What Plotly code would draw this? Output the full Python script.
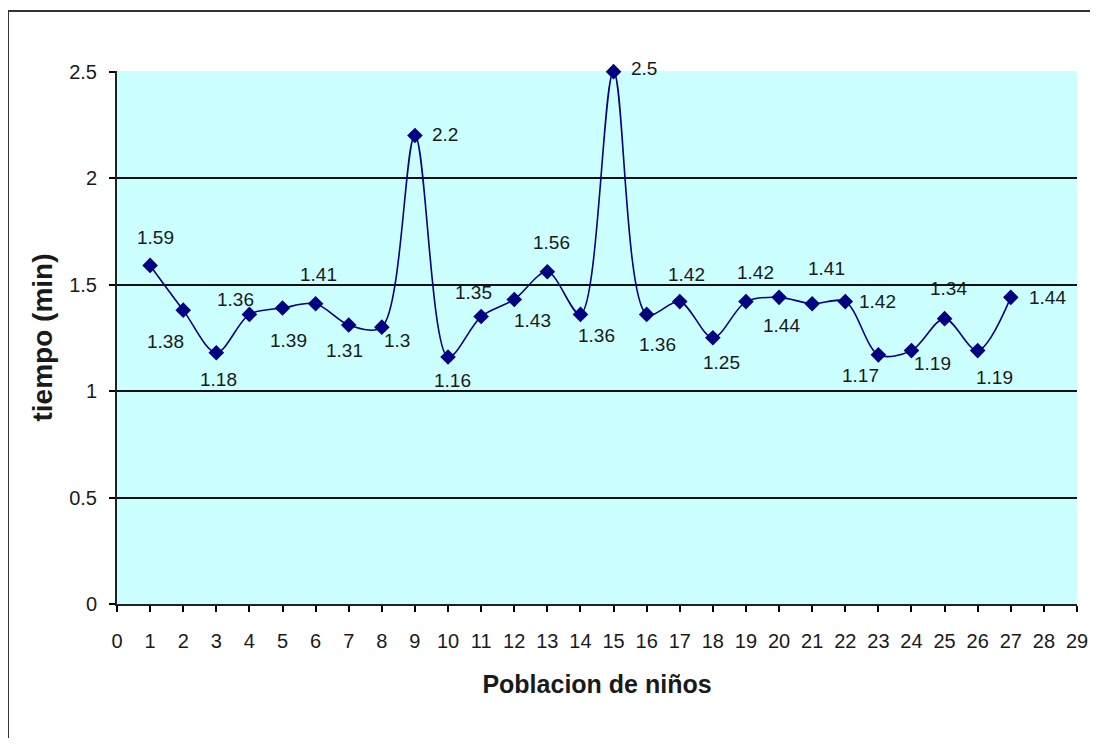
import plotly.graph_objects as go

ninos = list(range(1, 28))
tiempo = [1.59, 1.38, 1.18, 1.36, 1.39, 1.41, 1.31, 1.3, 2.2, 1.16, 1.35, 1.43, 1.56, 1.36,
          2.5, 1.36, 1.42, 1.25, 1.42, 1.44, 1.41, 1.42, 1.17, 1.19, 1.34, 1.19, 1.44]
etiquetas = ["1.59", "1.38", "1.18", "1.36", "1.39", "1.41", "1.31", "1.3", "2.2", "1.16", "1.35",
             "1.43", "1.56", "1.36", "2.5", "1.36", "1.42", "1.25", "1.42", "1.44", "1.41", "1.42",
             "1.17", "1.19", "1.34", "1.19", "1.44"]
# label offsets (pixels) of each data label centre from its point
desplaz = [(5, -28), (-18, 31), (2, 27), (-14, -15), (6, 32), (3, -29), (-4, 25), (15, 13),
           (30, -1), (4, 24), (-8, -24), (18, 21), (4, -29), (16, 21), (30, -3), (11, 30),
           (7, -27), (9, 25), (10, -29), (2, 28), (14, -35), (32, 0), (-18, 21), (21, 13),
           (4, -30), (17, 27), (37, 0)]
x_ticks = list(range(0, 30))
y_ticks = [0, 0.5, 1, 1.5, 2, 2.5]

FONT = "Liberation Sans, Arial, sans-serif"

fig = go.Figure()
fig.add_trace(go.Scatter(
    x=ninos, y=tiempo, mode="lines+markers",
    line=dict(color="#000080", width=1.6, shape="spline", smoothing=0.9),
    marker=dict(symbol="diamond", size=12, color="#000080"),
    cliponaxis=False, showlegend=False,
))

anots = []
for xv, yv, t, (dx, dy) in zip(ninos, tiempo, etiquetas, desplaz):
    anots.append(dict(x=xv, y=yv, xref="x", yref="y", text=t, showarrow=False,
                      xanchor="center", yanchor="middle", xshift=dx, yshift=-dy,
                      font=dict(family=FONT, size=19, color="#1a1a1a")))

# page body adds an 8px margin: figure sized so that the page fits the window
borde = dict(color="#333333", width=2)
fig.update_layout(
    width=1090, height=730,
    paper_bgcolor="white", plot_bgcolor="#CCFFFF",
    margin=dict(l=109, r=21, t=63, b=134),
    font=dict(family=FONT, color="#1a1a1a"),
    annotations=anots,
    shapes=[
        dict(type="line", xref="paper", yref="paper", x0=-109 / 960, x1=1.3,
             y0=1 + 60 / 533, y1=1 + 60 / 533, line=borde, layer="below"),
        dict(type="line", xref="paper", yref="paper", x0=-109 / 960, x1=-109 / 960,
             y0=-0.5, y1=1 + 60 / 533, line=borde, layer="below"),
    ],
)
fig.update_xaxes(
    range=[0, 29], tickmode="array", tickvals=x_ticks, ticktext=[str(v) for v in x_ticks],
    showgrid=False, zeroline=False, showline=True, linecolor="#222222", linewidth=2,
    ticks="outside", ticklen=6, tickcolor="black", tickwidth=1.5,
    tickfont=dict(size=20), ticklabelstandoff=12, automargin=False,
    title=dict(text="<b>Poblacion de niños</b>", font=dict(size=25), standoff=24),
)
fig.update_yaxes(
    range=[0, 2.503], tickmode="array", tickvals=y_ticks, ticktext=["0", "0.5", "1", "1.5", "2", "2.5"],
    showgrid=True, gridcolor="#111111", gridwidth=2, zeroline=False,
    showline=True, linecolor="#222222", linewidth=2,
    ticks="outside", ticklen=6, tickcolor="black", tickwidth=1.5,
    tickfont=dict(size=20), ticklabelstandoff=8, automargin=False,
    title=dict(text="<b>tiempo (min)</b>", font=dict(size=28), standoff=8),
)

fig.write_html("out.html")
